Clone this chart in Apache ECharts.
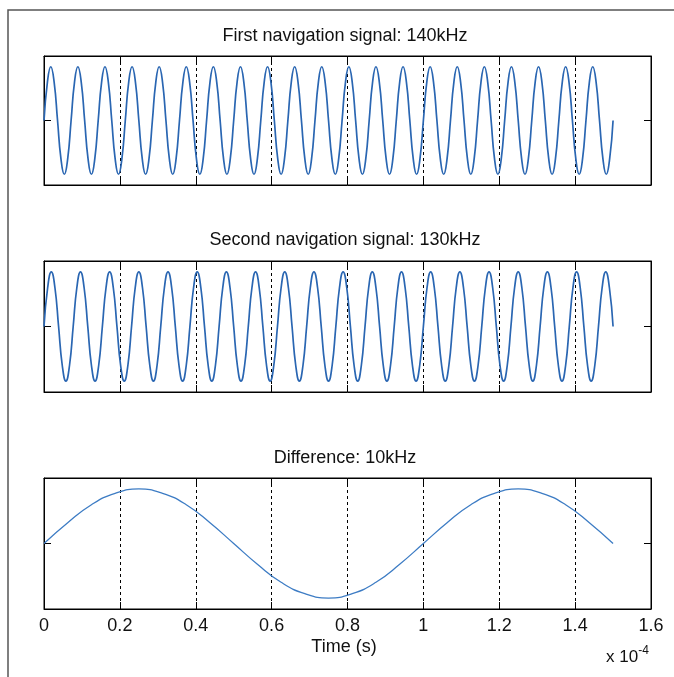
<!DOCTYPE html>
<html>
<head>
<meta charset="utf-8">
<script src="https://cdn.jsdelivr.net/npm/echarts@6/dist/echarts.min.js"></script>
<style>
  html, body { margin: 0; padding: 0; background: #fff; }
  #chart { width: 674px; height: 677px; }
</style>
</head>
<body>
<div id="chart"></div>
<script>
// ---- Data (time in units of 1e-4 s) ----
const titles = ['First navigation signal: 140kHz', 'Second navigation signal: 130kHz', 'Difference: 10kHz'];
const xTickLabels = ['0', '0.2', '0.4', '0.6', '0.8', '1', '1.2', '1.4', '1.6'];
const xAxisTitle = 'Time (s)';
const timeEnd = 1.5; // last sample time (x 1e-4 s)

// 140 kHz signal, 8 samples per cycle, 21 cycles
const signal1 = [
  0,0.71,1,0.71,0,-0.71,-1,-0.71,
  0,0.71,1,0.71,0,-0.71,-1,-0.71,
  0,0.71,1,0.71,0,-0.71,-1,-0.71,
  0,0.71,1,0.71,0,-0.71,-1,-0.71,
  0,0.71,1,0.71,0,-0.71,-1,-0.71,
  0,0.71,1,0.71,0,-0.71,-1,-0.71,
  0,0.71,1,0.71,0,-0.71,-1,-0.71,
  0,0.71,1,0.71,0,-0.71,-1,-0.71,
  0,0.71,1,0.71,0,-0.71,-1,-0.71,
  0,0.71,1,0.71,0,-0.71,-1,-0.71,
  0,0.71,1,0.71,0,-0.71,-1,-0.71,
  0,0.71,1,0.71,0,-0.71,-1,-0.71,
  0,0.71,1,0.71,0,-0.71,-1,-0.71,
  0,0.71,1,0.71,0,-0.71,-1,-0.71,
  0,0.71,1,0.71,0,-0.71,-1,-0.71,
  0,0.71,1,0.71,0,-0.71,-1,-0.71,
  0,0.71,1,0.71,0,-0.71,-1,-0.71,
  0,0.71,1,0.71,0,-0.71,-1,-0.71,
  0,0.71,1,0.71,0,-0.71,-1,-0.71,
  0,0.71,1,0.71,0,-0.71,-1,-0.71,
  0,0.71,1,0.71,0,-0.71,-1,-0.71,
  0
];

// 130 kHz signal, 8 samples per cycle, 19.5 cycles
const signal2 = [
  0,0.71,1,0.71,0,-0.71,-1,-0.71,
  0,0.71,1,0.71,0,-0.71,-1,-0.71,
  0,0.71,1,0.71,0,-0.71,-1,-0.71,
  0,0.71,1,0.71,0,-0.71,-1,-0.71,
  0,0.71,1,0.71,0,-0.71,-1,-0.71,
  0,0.71,1,0.71,0,-0.71,-1,-0.71,
  0,0.71,1,0.71,0,-0.71,-1,-0.71,
  0,0.71,1,0.71,0,-0.71,-1,-0.71,
  0,0.71,1,0.71,0,-0.71,-1,-0.71,
  0,0.71,1,0.71,0,-0.71,-1,-0.71,
  0,0.71,1,0.71,0,-0.71,-1,-0.71,
  0,0.71,1,0.71,0,-0.71,-1,-0.71,
  0,0.71,1,0.71,0,-0.71,-1,-0.71,
  0,0.71,1,0.71,0,-0.71,-1,-0.71,
  0,0.71,1,0.71,0,-0.71,-1,-0.71,
  0,0.71,1,0.71,0,-0.71,-1,-0.71,
  0,0.71,1,0.71,0,-0.71,-1,-0.71,
  0,0.71,1,0.71,0,-0.71,-1,-0.71,
  0,0.71,1,0.71,0,-0.71,-1,-0.71,
  0,0.71,1,0.71,0
];

// 10 kHz difference, 16 samples per cycle, 1.5 cycles
const difference = [
  0,0.38,0.71,0.92,1,0.92,0.71,0.38,
  0,-0.38,-0.71,-0.92,-1,-0.92,-0.71,-0.38,
  0,0.38,0.71,0.92,1,0.92,0.71,0.38,
  0
];

function toPairs(values) {
  const step = timeEnd / (values.length - 1);
  return values.map((v, i) => [i * step, v]);
}

const FONT = 'Liberation Sans, Arial, sans-serif';
const FS = 18;
const chart = echarts.init(document.getElementById('chart'), null, { renderer: 'canvas' });

const gridDefs = [
  { top: 56, height: 129 },
  { top: 261, height: 131 },
  { top: 478, height: 131 }
];

const grids = gridDefs.map(g => ({
  left: 44, right: 23, top: g.top, height: g.height,
  show: true, borderColor: '#000', borderWidth: 1, backgroundColor: '#fff'
}));

const tickStyle = { show: true, inside: true, length: 7, lineStyle: { color: '#000', width: 1 } };
const lineSt = { show: true, onZero: false, lineStyle: { color: '#000', width: 1 } };

const xAxes = [];
const yAxes = [];
gridDefs.forEach((g, i) => {
  xAxes.push({
    type: 'value', gridIndex: i, min: 0, max: 1.6, interval: 0.2, position: 'bottom',
    axisLine: lineSt, axisTick: tickStyle,
    axisLabel: {
      show: i === 2, margin: 8, color: '#111', fontSize: FS, fontFamily: FONT,
      formatter: (v, idx) => xTickLabels[idx]
    },
    splitLine: { show: true, lineStyle: { color: '#000', type: [3, 3], width: 1 } },
    z: 1
  });
  xAxes.push({
    type: 'value', gridIndex: i, min: 0, max: 1.6, interval: 0.2, position: 'top',
    axisLine: lineSt, axisTick: tickStyle,
    axisLabel: { show: false }, splitLine: { show: false }
  });
  yAxes.push({
    type: 'value', gridIndex: i, min: -1.2, max: 1.2, interval: 1.2, position: 'left',
    axisLine: lineSt, axisTick: tickStyle,
    axisLabel: { show: false }, splitLine: { show: false }
  });
  yAxes.push({
    type: 'value', gridIndex: i, min: -1.2, max: 1.2, interval: 1.2, position: 'right',
    axisLine: lineSt, axisTick: tickStyle,
    axisLabel: { show: false }, splitLine: { show: false }
  });
});

const seriesData = [signal1, signal2, difference];
const series = seriesData.map((vals, i) => ({
  type: 'line', xAxisIndex: i * 2, yAxisIndex: i * 2,
  data: toPairs(vals), smooth: 0.5, symbol: 'none', clip: true,
  lineStyle: { color: i === 2 ? '#3d7cc4' : '#2a66b2', width: i === 2 ? 1.3 : 1.7 },
  z: 3
}));

const titleY = [36, 240, 458];
const graphics = titles.map((t, i) => ({
  type: 'text', x: 345, y: titleY[i],
  style: { text: t, fontSize: FS, fontFamily: FONT, fill: '#111', textAlign: 'center', textVerticalAlign: 'middle' }
}));
graphics.push({
  type: 'text', x: 344, y: 647,
  style: { text: xAxisTitle, fontSize: FS, fontFamily: FONT, fill: '#111', textAlign: 'center', textVerticalAlign: 'middle' }
});
graphics.push({
  type: 'text', x: 606, y: 657,
  style: {
    text: '{a|x 10}{b|-4}',
    textAlign: 'left', textVerticalAlign: 'middle',
    rich: {
      a: { fontSize: 17, fontFamily: FONT, fill: '#111', color: '#111' },
      b: { fontSize: 12, fontFamily: FONT, fill: '#111', color: '#111', verticalAlign: 'top', padding: [0, 0, 12, 0] }
    }
  }
});
graphics.push({
  type: 'polyline', silent: true,
  shape: { points: [[8, 677], [8, 10], [674, 10]] },
  style: { stroke: '#555', lineWidth: 1.5, fill: null }
});

chart.setOption({
  animation: false,
  backgroundColor: '#fff',
  grid: grids,
  xAxis: xAxes,
  yAxis: yAxes,
  series: series,
  graphic: graphics
});
</script>
</body>
</html>
